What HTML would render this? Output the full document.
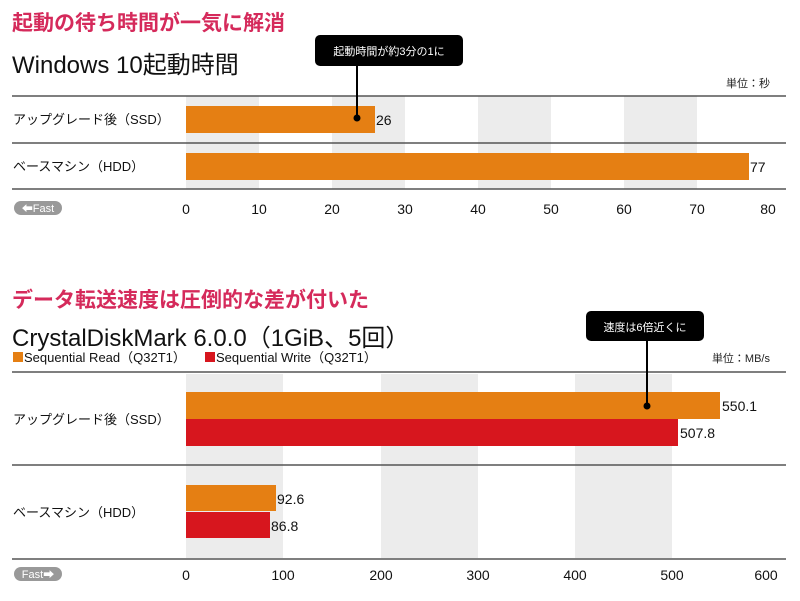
<!DOCTYPE html>
<html><head><meta charset="utf-8"><style>
body{margin:0;width:800px;height:596px;background:#fff;overflow:hidden;font-family:"Liberation Sans","Noto Sans CJK JP",sans-serif;}
</style></head><body>
<svg width="800" height="596" xmlns="http://www.w3.org/2000/svg" font-family="Liberation Sans, Noto Sans CJK JP, sans-serif">
<!-- top -->
<text x="12" y="30" font-size="21" font-weight="bold" fill="#d52a5b">起動の待ち時間が一気に解消</text>
<text x="12" y="73" font-size="24" fill="#111">Windows 10起動時間</text>
<text x="770" y="87" font-size="11" fill="#222" text-anchor="end">単位：秒</text>
<g fill="#ececec">
<rect x="186" y="96" width="73" height="93"/><rect x="332" y="96" width="73" height="93"/><rect x="478" y="96" width="73" height="93"/><rect x="624" y="96" width="73" height="93"/>
</g>
<g stroke="#555" stroke-width="1.5"><line x1="12" y1="96" x2="786" y2="96"/><line x1="12" y1="143" x2="786" y2="143"/><line x1="12" y1="189" x2="786" y2="189"/></g>
<rect x="186" y="106" width="189" height="27" fill="#e57f13"/>
<rect x="186" y="153" width="563" height="27" fill="#e57f13"/>
<g font-size="13" fill="#111">
<text x="13" y="124">アップグレード後（SSD）</text>
<text x="13" y="171">ベースマシン（HDD）</text>
<text x="376" y="125" font-size="14">26</text>
<text x="750" y="172" font-size="14">77</text>
</g>
<g font-size="14" fill="#111" text-anchor="middle">
<text x="186" y="214">0</text><text x="259" y="214">10</text><text x="332" y="214">20</text><text x="405" y="214">30</text><text x="478" y="214">40</text><text x="551" y="214">50</text><text x="624" y="214">60</text><text x="697" y="214">70</text><text x="768" y="214">80</text>
</g>
<rect x="14" y="201" width="48" height="14" rx="7" fill="#999"/>
<text x="38" y="212" font-size="11" fill="#fff" text-anchor="middle">⬅Fast</text>
<rect x="315" y="35" width="148" height="31" rx="5" fill="#000"/>
<text x="389" y="55" font-size="11" fill="#fff" text-anchor="middle">起動時間が約3分の1に</text>
<line x1="357" y1="66" x2="357" y2="117" stroke="#000" stroke-width="2"/><circle cx="357" cy="118" r="3.5" fill="#000"/>
<!-- bottom -->
<text x="12" y="307" font-size="21" font-weight="bold" fill="#d52a5b">データ転送速度は圧倒的な差が付いた</text>
<text x="12" y="346" font-size="24" fill="#111">CrystalDiskMark 6.0.0（1GiB、5回）</text>
<rect x="13" y="352" width="10" height="10" fill="#e57f13"/>
<text x="24" y="362" font-size="13" fill="#111">Sequential Read（Q32T1）</text>
<rect x="205" y="352" width="10" height="10" fill="#d7161e"/>
<text x="216" y="362" font-size="13" fill="#111">Sequential Write（Q32T1）</text>
<text x="770" y="362" font-size="11" fill="#222" text-anchor="end">単位：MB/s</text>
<g fill="#ececec">
<rect x="186" y="374" width="97" height="184"/><rect x="381" y="374" width="97" height="184"/><rect x="575" y="374" width="97" height="184"/>
</g>
<g stroke="#555" stroke-width="1.5"><line x1="12" y1="372" x2="786" y2="372"/><line x1="12" y1="465" x2="786" y2="465"/><line x1="12" y1="559" x2="786" y2="559"/></g>
<rect x="186" y="392" width="534" height="27" fill="#e57f13"/>
<rect x="186" y="419" width="492" height="27" fill="#d7161e"/>
<rect x="186" y="485" width="90" height="26" fill="#e57f13"/>
<rect x="186" y="512" width="84" height="26" fill="#d7161e"/>
<g font-size="13" fill="#111">
<text x="13" y="424">アップグレード後（SSD）</text>
<text x="13" y="517">ベースマシン（HDD）</text>
</g>
<g font-size="14" fill="#111">
<text x="722" y="411">550.1</text><text x="680" y="438">507.8</text><text x="277" y="504">92.6</text><text x="271" y="531">86.8</text>
</g>
<g font-size="14" fill="#111" text-anchor="middle">
<text x="186" y="580">0</text><text x="283" y="580">100</text><text x="381" y="580">200</text><text x="478" y="580">300</text><text x="575" y="580">400</text><text x="672" y="580">500</text><text x="766" y="580">600</text>
</g>
<rect x="14" y="567" width="48" height="14" rx="7" fill="#999"/>
<text x="38" y="578" font-size="11" fill="#fff" text-anchor="middle">Fast➡</text>
<rect x="586" y="311" width="118" height="30" rx="5" fill="#000"/>
<text x="645" y="331" font-size="11" fill="#fff" text-anchor="middle">速度は6倍近くに</text>
<line x1="647" y1="341" x2="647" y2="405" stroke="#000" stroke-width="2"/><circle cx="647" cy="406" r="3.5" fill="#000"/>
</svg>
</body></html>
